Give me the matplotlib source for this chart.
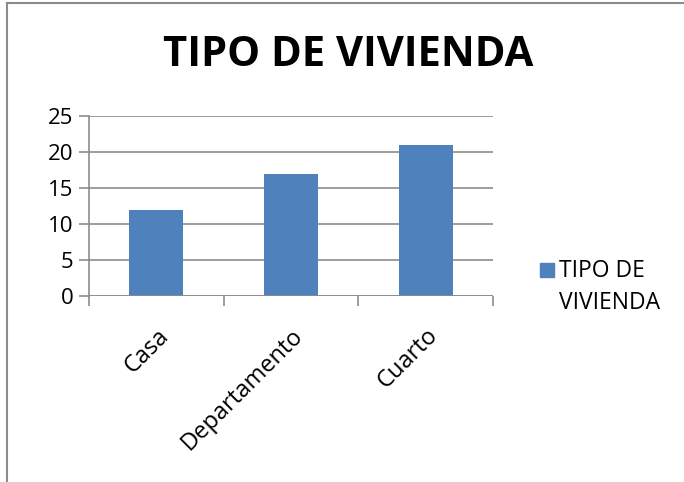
import matplotlib
matplotlib.use("Agg")
import matplotlib.pyplot as plt
from matplotlib.patches import Rectangle
from matplotlib.lines import Line2D

categories = ["Casa", "Departamento", "Cuarto"]
values = [12, 17, 21]
yticks = [0, 5, 10, 15, 20, 25]
title = "TIPO DE VIVIENDA"
series_name = "TIPO DE\nVIVIENDA"

W, H = 684, 482
fig = plt.figure(figsize=(W/100, H/100), dpi=100)
plt.rcParams['font.family'] = ['Open Sans', 'DejaVu Sans']

# outer frame (partial, as in the cropped reference)
fig.add_artist(Line2D([7/W, 7/W], [0, 1-3/H], color='#8c8c8c', lw=1.5, transform=fig.transFigure))
fig.add_artist(Line2D([7/W, 1], [1-3/H, 1-3/H], color='#8c8c8c', lw=1.5, transform=fig.transFigure))

x0, x1 = 89, 493
y0, y1 = 296, 116
ax = fig.add_axes([x0/W, 1-y0/H, (x1-x0)/W, (y0-y1)/H])
pos = list(range(len(categories)))
ax.bar(pos, values, width=0.4, color='#4f81bd', zorder=3)
ax.set_xlim(-0.5, len(categories)-0.5)
ax.set_ylim(0, 25)
ax.set_yticks(yticks)
ax.set_yticklabels([str(v) for v in yticks], fontsize=16)
ax.yaxis.grid(True, color='#8c8c8c', lw=1.2, zorder=0)
for s in ['top', 'right', 'bottom']:
    ax.spines[s].set_visible(False)
ax.spines['left'].set_color('#8c8c8c')
ax.spines['left'].set_linewidth(1.2)
ax.axhline(0, color='#8c8c8c', lw=1.2, zorder=4)
ax.tick_params(axis='y', length=7, color='#8c8c8c', width=1.2, pad=4)
ax.set_xticks(pos)
ax.set_xticklabels(categories, rotation=45, ha='right', va='top', rotation_mode='anchor', fontsize=17)
ax.tick_params(axis='x', length=0, pad=20)
ax.set_xticks([-0.5, 0.5, 1.5, 2.5], minor=True)
ax.tick_params(axis='x', which='minor', length=7, color='#8c8c8c', width=1.2)

fig.text(348/W, 1-55/H, title, ha='center', va='center', fontsize=30, fontweight='bold')

# legend
fig.add_artist(Rectangle((540/W, 1-277/H), 14/W, 14/H, color='#4f81bd', transform=fig.transFigure))
fig.text(559/W, 1-287/H, series_name, ha='left', va='center', fontsize=16.5, linespacing=1.45)

fig.savefig("out.png", dpi=100)
